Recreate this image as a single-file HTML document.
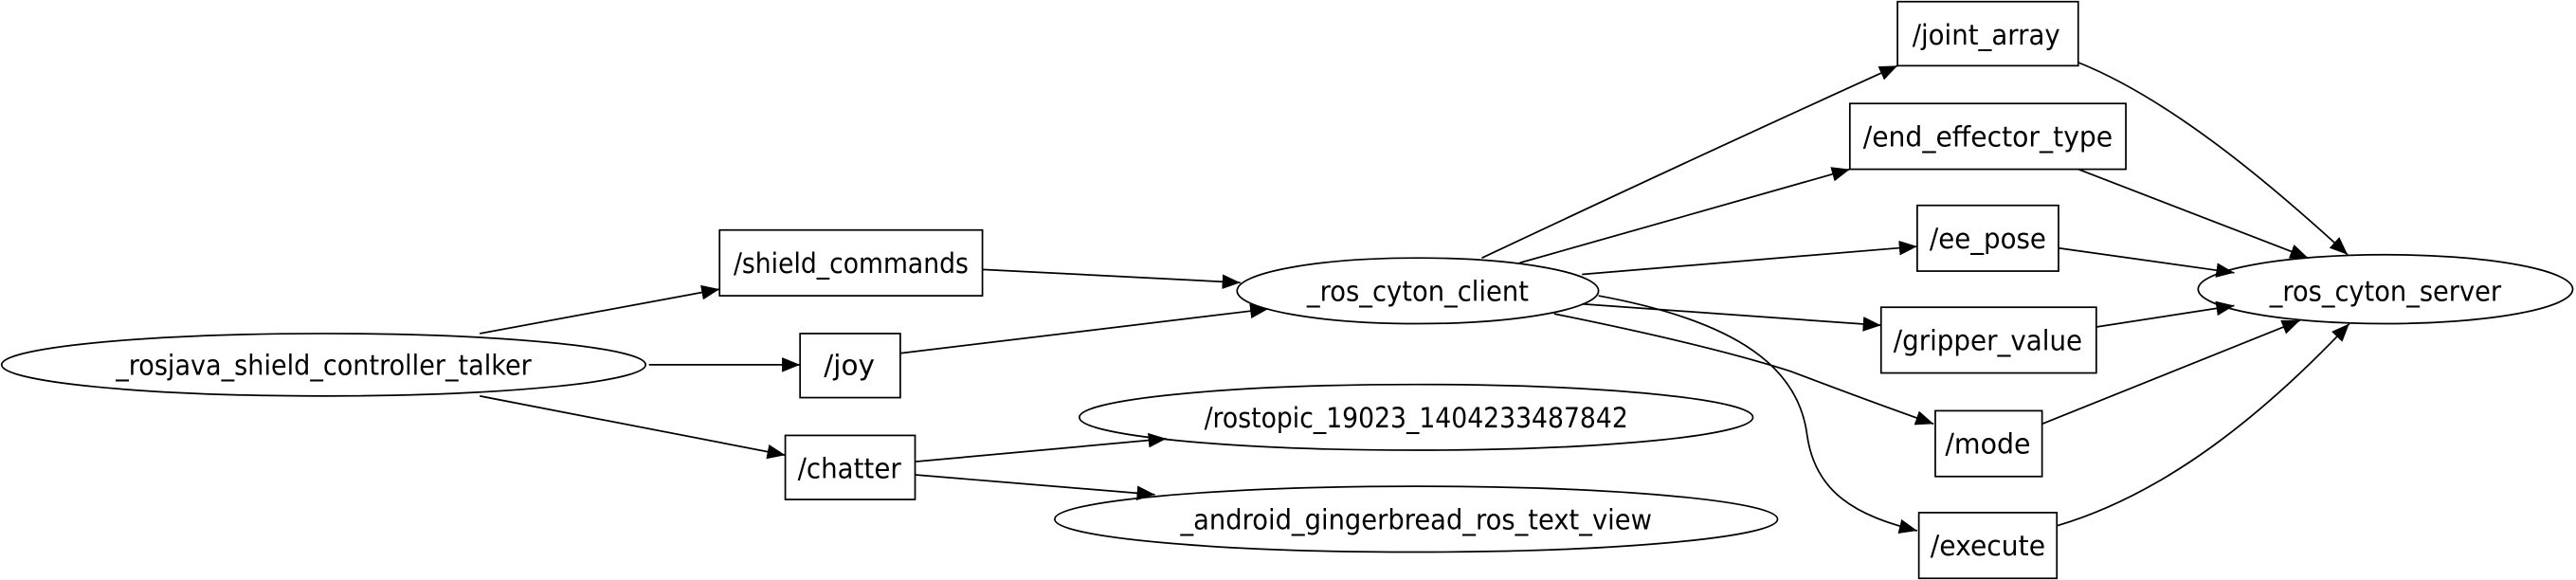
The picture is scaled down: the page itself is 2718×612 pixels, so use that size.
<!DOCTYPE html>
<html><head><meta charset="utf-8"><style>
html,body{margin:0;padding:0;background:#fff;}
svg{display:block;}
text{font-family:"DejaVu Sans","Liberation Sans",sans-serif;font-size:17px;fill:#000;}
</style></head><body>
<svg width="2718" height="612" viewBox="0 0 1568 353" preserveAspectRatio="none" xmlns="http://www.w3.org/2000/svg">
<defs>
<marker id="a" markerUnits="userSpaceOnUse" markerWidth="12" markerHeight="10" refX="11" refY="4.5" orient="auto">
<path d="M0,0 L11,4.5 L0,9 Z" fill="#000"/>
</marker>
</defs>
<g fill="none" stroke="#000" stroke-width="1">
<ellipse cx="197" cy="222" rx="196" ry="19"/>
<rect x="438" y="140" width="160" height="40"/>
<rect x="487" y="203" width="61" height="39"/>
<rect x="478" y="265" width="79" height="39"/>
<ellipse cx="863" cy="177" rx="110" ry="20"/>
<ellipse cx="862" cy="254" rx="205" ry="20"/>
<ellipse cx="862" cy="316" rx="220" ry="20"/>
<rect x="1155" y="1" width="110" height="39"/>
<rect x="1126" y="63" width="168" height="40"/>
<rect x="1167" y="125" width="86" height="40"/>
<rect x="1145" y="187" width="131" height="40"/>
<rect x="1178" y="250" width="65" height="40"/>
<rect x="1168" y="312" width="84" height="40"/>
<ellipse cx="1452" cy="176" rx="114" ry="21"/>

<g marker-end="url(#a)">
<path d="M292,203 L438,176"/>
<path d="M395,222 L487,222"/>
<path d="M292,241 L478,277"/>
<path d="M598,164 L755,172"/>
<path d="M548,215 L772,188"/>
<path d="M557,281 L710,267"/>
<path d="M557,289 L703,301"/>
<path d="M902,157 Q1040,92 1155,40"/>
<path d="M925,160 L1126,103"/>
<path d="M963,167 L1167,150"/>
<path d="M963,185 L1145,198"/>
<path d="M946,191 Q1040,210 1090,226 Q1140,245 1177,258"/>
<path d="M973,180 C1060,196 1095,225 1100,265 C1105,300 1130,314 1167,323"/>
<path d="M1265,38 C1320,60 1380,110 1429,155"/>
<path d="M1265,103 L1405,157"/>
<path d="M1253,151 L1360,166"/>
<path d="M1276,199 L1360,186"/>
<path d="M1243,258 L1400,195"/>
<path d="M1252,320 C1320,300 1380,250 1430,197"/>
</g>
</g>
<g text-anchor="middle">
<text x="197" y="228" textLength="253" lengthAdjust="spacingAndGlyphs">_rosjava_shield_controller_talker</text>
<text x="518" y="166" textLength="143" lengthAdjust="spacingAndGlyphs">/shield_commands</text>
<text x="517" y="228" textLength="31" lengthAdjust="spacingAndGlyphs">/joy</text>
<text x="517" y="291" textLength="63" lengthAdjust="spacingAndGlyphs">/chatter</text>
<text x="863" y="183" textLength="135" lengthAdjust="spacingAndGlyphs">_ros_cyton_client</text>
<text x="862" y="260" textLength="258" lengthAdjust="spacingAndGlyphs">/rostopic_19023_1404233487842</text>
<text x="862" y="322" textLength="287" lengthAdjust="spacingAndGlyphs">_android_gingerbread_ros_text_view</text>
<text x="1209" y="27" textLength="90" lengthAdjust="spacingAndGlyphs">/joint_array</text>
<text x="1210" y="89" textLength="152" lengthAdjust="spacingAndGlyphs">/end_effector_type</text>
<text x="1210" y="151" textLength="71" lengthAdjust="spacingAndGlyphs">/ee_pose</text>
<text x="1210" y="213" textLength="115" lengthAdjust="spacingAndGlyphs">/gripper_value</text>
<text x="1210" y="276" textLength="52" lengthAdjust="spacingAndGlyphs">/mode</text>
<text x="1210" y="338" textLength="70" lengthAdjust="spacingAndGlyphs">/execute</text>
<text x="1452" y="183" textLength="141" lengthAdjust="spacingAndGlyphs">_ros_cyton_server</text>
</g>
</svg>
</body></html>
